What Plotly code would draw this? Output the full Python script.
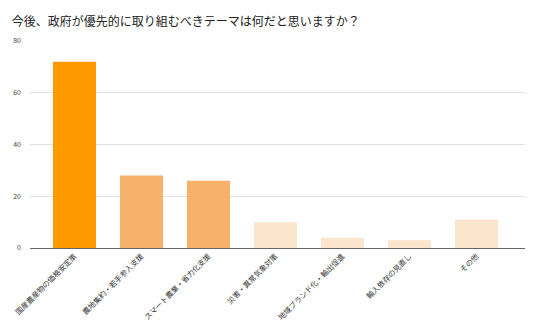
import plotly.graph_objects as go

categories = ["国産農産物の価格安定策", "農地集約・若手参入支援", "スマート農業・省力化支援",
              "災害・異常気象対策", "地域ブランド化・輸出促進", "輸入依存の見直し", "その他"]
values = [72, 28, 26, 10, 4, 3, 11]
colors = ["#FF9900", "#F6B26B", "#F6B26B", "#FCE5CD", "#FCE5CD", "#FCE5CD", "#FCE5CD"]

fig = go.Figure(go.Bar(x=categories, y=values, marker_color=colors, marker_line_width=0))
fig.update_layout(
    width=536, height=330,
    margin=dict(l=30, r=11, t=41, b=82),
    paper_bgcolor="white", plot_bgcolor="white",
    font=dict(family="Noto Sans CJK JP", color="#222"),
    title=dict(text="今後、政府が優先的に取り組むべきテーマは何だと思いますか？",
               x=0.022, xanchor="left", y=0.935, yanchor="middle",
               font=dict(size=12, color="#222")),
    bargap=0.358,
    showlegend=False,
)
fig.update_yaxes(range=[0, 80], tickvals=[0, 20, 40, 60, 80], gridcolor="#E0E0E0",
                 tickfont=dict(size=7, color="#444"), zeroline=False, ticks="",
                 ticklabelstandoff=8, automargin=False)
fig.update_xaxes(range=[-0.664, 6.724], tickangle=-45, tickfont=dict(size=7.5, color="#333"),
                 showline=True, linecolor="#666", linewidth=1, automargin=False)
fig.write_html("out.html")
